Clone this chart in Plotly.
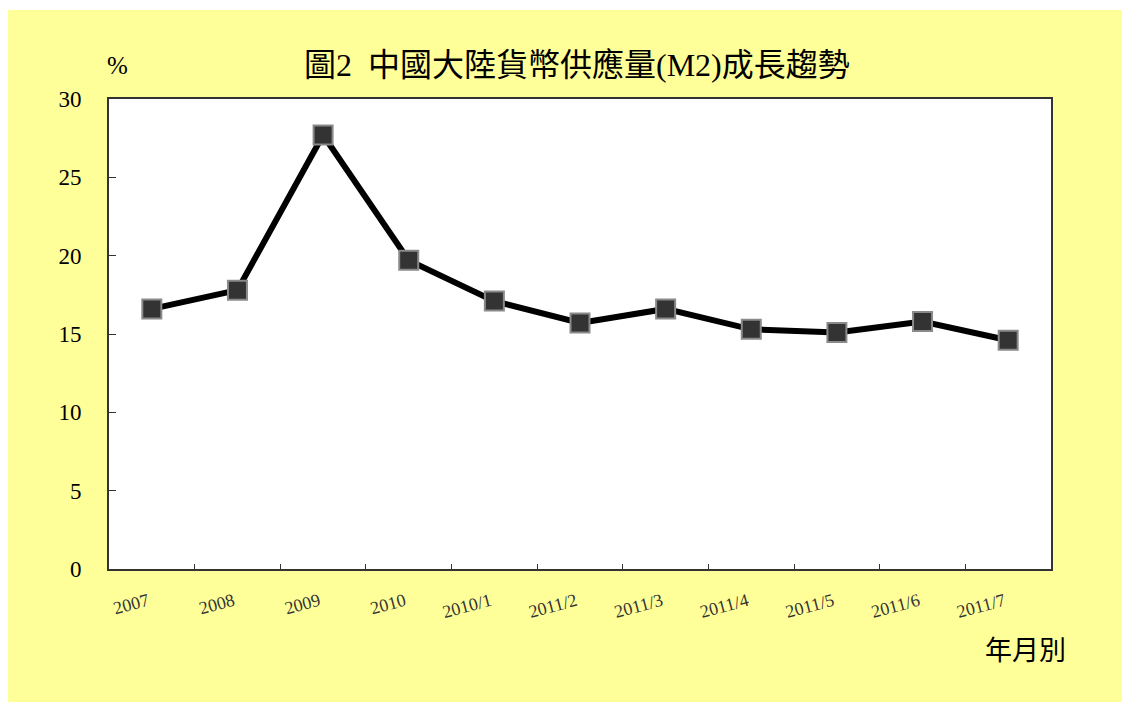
import plotly.graph_objects as go

categories = ["2007", "2008", "2009", "2010", "2010/1", "2011/2", "2011/3",
              "2011/4", "2011/5", "2011/6", "2011/7"]
m2_growth = [16.6, 17.8, 27.7, 19.7, 17.1, 15.7, 16.6, 15.3, 15.1, 15.8, 14.6]

title_text = "圖2  中國大陸貨幣供應量(M2)成長趨勢"
y_unit = "%"
x_unit = "年月別"

W, H = 1122, 702
L, R, T, B = 109, 1051, 99, 569
pw, ph = R - L, B - T


def px(x):
    return (x - L) / pw


def py(y):
    return (B - y) / ph


fig = go.Figure()
fig.add_trace(go.Scatter(
    x=categories, y=m2_growth, mode="lines+markers",
    line=dict(color="#000000", width=6),
    marker=dict(symbol="square", size=19, color="#333333",
                line=dict(color="#8a8a8a", width=2)),
    showlegend=False, hoverinfo="x+y",
))

fig.update_layout(
    width=W, height=H,
    margin=dict(l=L, r=W - R, t=T, b=H - B),
    paper_bgcolor="#FFFF99",
    plot_bgcolor="#FFFFFF",
    xaxis=dict(
        type="category", range=[-0.5, len(categories) - 0.5],
        showgrid=False, zeroline=False,
        showline=True, linecolor="#333333", linewidth=2, mirror=True,
        ticks="inside", ticklen=5, tickcolor="#333333", tickwidth=1,
        tickson="boundaries", tickangle=-15,
        tickfont=dict(family="Liberation Serif", size=18, color="#333333"),
        ticklabelstandoff=13, ticklabelshift=-4,
    ),
    yaxis=dict(
        range=[0, 30], tickvals=[0, 5, 10, 15, 20, 25, 30],
        showgrid=False, zeroline=False,
        showline=True, linecolor="#333333", linewidth=2, mirror=True,
        ticks="inside", ticklen=7, tickcolor="#333333", tickwidth=1,
        tickfont=dict(family="Liberation Serif", size=23, color="#000000"),
        ticklabelstandoff=21,
    ),
    shapes=[
        dict(type="rect", xref="paper", yref="paper",
             x0=px(-2), x1=px(8), y0=py(H + 2), y1=py(-2),
             fillcolor="#FFFFFF", line=dict(width=0), layer="above"),
        dict(type="rect", xref="paper", yref="paper",
             x0=px(-2), x1=px(W + 2), y0=py(10), y1=py(-2),
             fillcolor="#FFFFFF", line=dict(width=0), layer="above"),
    ],
    annotations=[
        dict(text=title_text, xref="paper", yref="paper",
             x=px(577), y=py(65), xanchor="center", yanchor="middle",
             showarrow=False,
             font=dict(family="Liberation Serif, Noto Sans CJK TC", size=32, color="#000000")),
        dict(text=y_unit, xref="paper", yref="paper",
             x=px(117), y=py(65), xanchor="center", yanchor="middle",
             showarrow=False,
             font=dict(family="Liberation Serif", size=25, color="#000000")),
        dict(text=x_unit, xref="paper", yref="paper",
             x=px(1025), y=py(648), xanchor="center", yanchor="middle",
             showarrow=False,
             font=dict(family="Noto Sans CJK TC", size=27, color="#000000")),
    ],
)

fig.write_html("out.html",
               config={"displayModeBar": False},
               post_script="document.body.style.margin='0';"
                           "document.body.style.overflow='hidden';")
